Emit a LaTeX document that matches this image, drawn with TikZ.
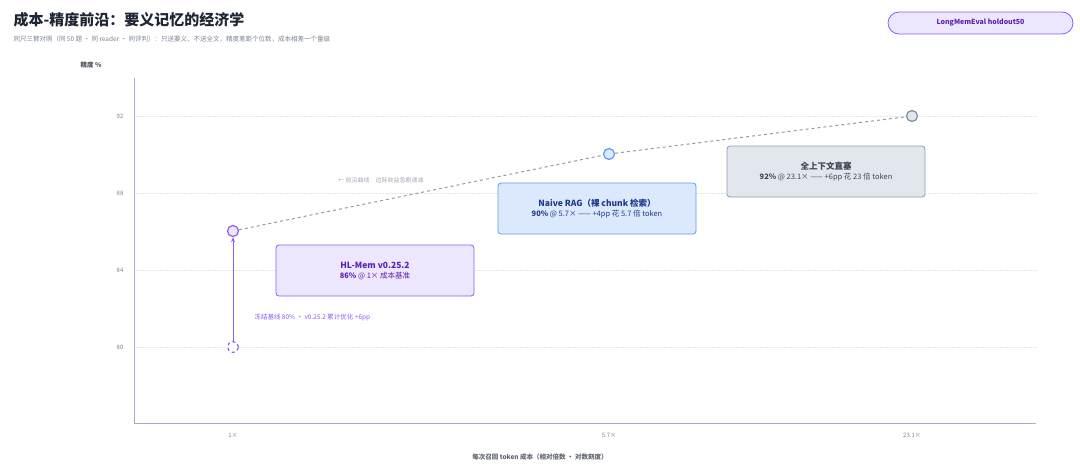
\documentclass[tikz,border=0pt]{standalone}
\usepackage{fontspec}
\setmainfont{Noto Sans CJK SC}
\usetikzlibrary{arrows.meta}
\definecolor{ink}{HTML}{1E2633}
\definecolor{mute}{HTML}{7A8494}
\definecolor{axis}{HTML}{A3AEC2}
\definecolor{purp}{HTML}{8B5CF6}
\definecolor{purpfill}{HTML}{EDE7FD}
\definecolor{purpdark}{HTML}{5B21B6}
\definecolor{blu}{HTML}{5B9BF0}
\definecolor{blufill}{HTML}{DCE9FD}
\definecolor{bludark}{HTML}{1E3A8A}
\definecolor{gry}{HTML}{8D9AB0}
\definecolor{gryfill}{HTML}{E2E7EE}
\begin{document}
\begin{tikzpicture}[x=1pt,y=-1pt,
  box/.style={draw, rounded corners=3pt, line width=0.8pt, minimum width=198pt, minimum height=51pt, align=center, font=\fontsize{7.5}{10}\selectfont},
  pt/.style={circle, draw, line width=1.2pt, minimum size=11pt, inner sep=0pt},
  tick/.style={font=\fontsize{6}{7}\selectfont, text=mute},
  grid/.style={densely dotted, draw=gray!20, line width=0.5pt}]
\useasboundingbox (0,0) rectangle (1080,469);
% title
\node[anchor=west, font=\fontsize{15}{17}\bfseries\selectfont, text=ink] (title) at (10,20) {成本-精度前沿：要义记忆的经济学};
\node[anchor=west, font=\fontsize{6.5}{8}\selectfont, text=mute] (sub) at (10,39) {同尺三臂对照（同 50 题 · 同 reader · 同评判）：只送要义、不送全文，精度差距个位数，成本相差一个量级};
\node[draw=purp, fill=purpfill, rounded corners=11pt, line width=0.8pt, minimum width=185pt, minimum height=22pt, text=purpdark, font=\fontsize{7}{8}\bfseries\selectfont] (badge) at (980.5,23) {LongMemEval holdout50};
% axes
\node[font=\fontsize{6.5}{8}\bfseries\selectfont, text=ink!80] (ylab) at (91,65) {精度 \%};
\foreach \v/\y in {92/116, 88/193, 84/270, 80/347} {
  \draw[grid] (134,\y) -- (1036,\y);
  \node[tick] (y\v) at (120,\y) {\v};
}
\draw[axis, line width=0.9pt] (134,78) -- (134,423) -- (1036,423);
\foreach \l/\x [count=\i] in {1×/233, 5.7×/609, 23.1×/912}
  \node[tick] (x\i) at (\x,435) {\l};
\node[font=\fontsize{6.5}{8}\bfseries\selectfont, text=ink!70] (xlab) at (540,457) {每次召回 token 成本（相对倍数 · 对数刻度）};
% points
\node[pt, draw=purp, fill=purpfill] (hl) at (233,231) {};
\node[pt, draw=blu, fill=blufill] (rag) at (609,154) {};
\node[pt, draw=gry!90!black, fill=gryfill] (full) at (912,116) {};
\node[pt, draw=purp, fill=white, dashed] (base) at (233,347) {};
\draw[gry, dashed, line width=1pt] (hl) -- (rag) -- (full);
\draw[purp, line width=1pt, -{Stealth[length=5pt]}] (base) -- (hl);
\node[font=\fontsize{6}{7}\itshape\selectfont, text=mute!70] (front) at (381,180) {← 前沿曲线：边际收益急剧递减};
\node[anchor=west, font=\fontsize{6.5}{8}\selectfont, text=purp] (gain) at (251,317) {冻结基线 80\% · v0.25.2 累计优化 +6pp};
% boxes
\node[box, draw=purp, fill=purpfill, text=purpdark] (hlbox) at (375,270.5) {{\fontsize{8.5}{10}\bfseries\selectfont HL-Mem v0.25.2}\\\textbf{86\%} @ 1× 成本基准};
\node[box, draw=blu, fill=blufill, text=bludark] (ragbox) at (597,208.5) {{\fontsize{8.5}{10}\bfseries\selectfont Naive RAG（裸 chunk 检索）}\\\textbf{90\%} @ 5.7× —— +4pp 花 5.7 倍 token};
\node[box, draw=gry, fill=gryfill, text=ink!85] (fullbox) at (826,171.5) {{\fontsize{8.5}{10}\bfseries\selectfont 全上下文直塞}\\\textbf{92\%} @ 23.1× —— +6pp 花 23 倍 token};
\end{tikzpicture}
\end{document}
